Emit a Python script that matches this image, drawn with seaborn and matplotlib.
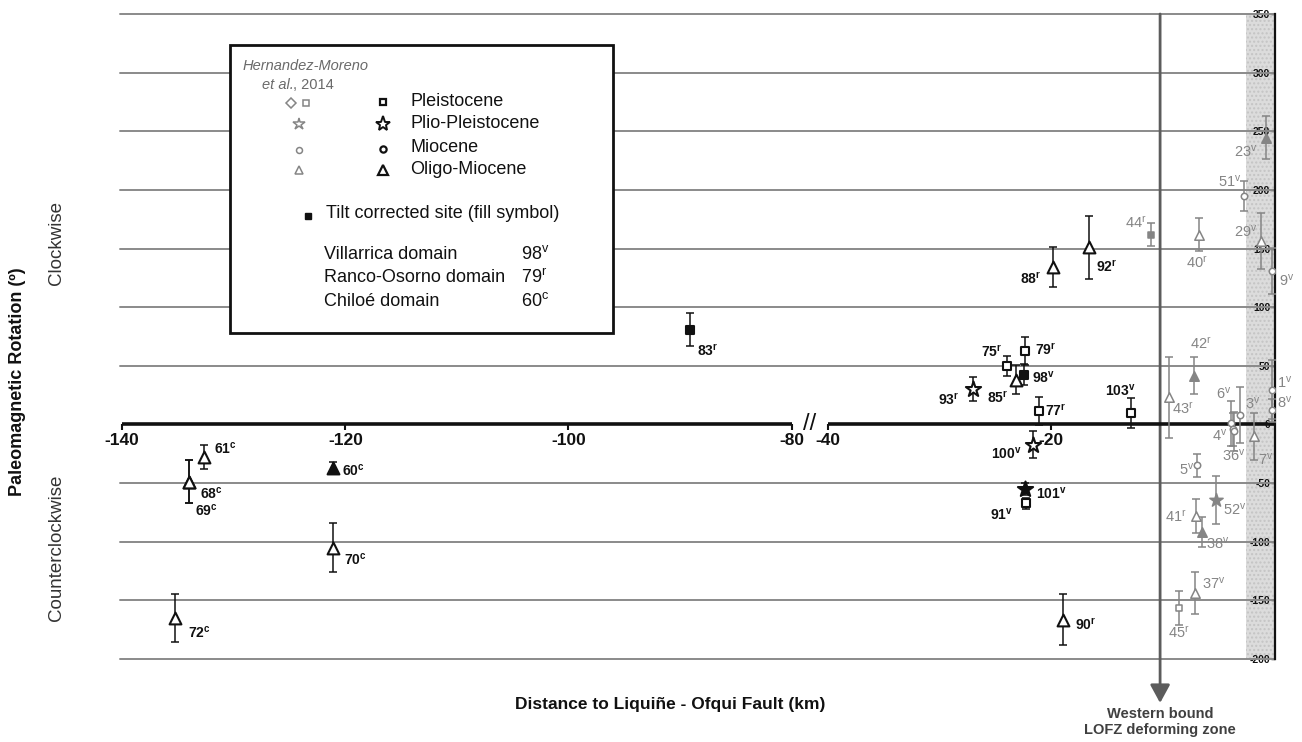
import numpy as np
import pandas as pd
import matplotlib
matplotlib.use("Agg")
import matplotlib.pyplot as plt
from matplotlib.patches import Rectangle
import seaborn as sns

# ---------------- data ----------------
site_id = [61, 68, 69, 60, 70, 72, 83, 88, 92, 79, 75, 98, 85, 93, 77, 103, 100, 101, 91, 90,
           23, 51, 44, 40, 29, 9, 42, 43, 1, 8, 6, 3, 4, 36, 7, 5, 52, 41, 38, 37, 45]
site_domain = ["c", "c", "c", "c", "c", "c", "r", "r", "r", "r", "r", "v", "r", "r", "r", "v", "v", "v", "v", "r",
               "v", "v", "r", "r", "v", "v", "r", "r", "v", "v", "v", "v", "v", "v", "v", "v", "v", "r", "v", "v", "r"]
dist_km = [-132.7, -134.0, -134.0, -121.1, -121.1, -135.3, -89.1, -19.8, -16.6, -22.3,
           -23.9, -22.4, -23.1, -27.0, -21.05, -12.8, -21.6, -22.3, -22.2, -18.9,
           -0.7, -2.65, -11.0, -6.7, -1.15, -0.2, -7.2, -9.4, -0.2, -0.2,
           -3.8, -3.0, -3.65, -3.6, -1.8, -6.9, -5.2, -7.0, -6.4, -7.1, -8.5]
rotation = [-27.8, -49.0, -49.0, -36.8, -105.0, -165.0, 80.7, 134.1, 151.1, 62.8,
            49.8, 42.4, 38.2, 30.3, 11.6, 9.6, -17.3, -55.2, -67.3, -166.4,
            244.5, 194.7, 161.9, 161.9, 156.2, 130.7, 41.6, 23.2, 29.7, 11.9,
            1.0, 8.2, -4.0, -6.0, -10.2, -34.8, -64.5, -78.1, -91.4, -143.7, -156.8]
alpha95 = [10.6, 18.4, 18.4, 5, 20.6, 20.7, 14, 17, 27, 12,
           8.5, 9, 12.3, 10, 12, 12.6, 11.6, 5, 5, 22,
           18.5, 12.7, 10, 14, 24, 19.5, 16, 34.7, 25, 10,
           19, 23.6, 14, 17, 19.8, 10, 20.8, 14.4, 12.7, 17.7, 14.4]
OM, M, PP, P = "Oligo-Miocene", "Miocene", "Plio-Pleistocene", "Pleistocene"
age_group = [OM, OM, OM, OM, OM, OM, P, OM, OM, P, P, P, OM, PP, P, P, PP, PP, P, OM,
             OM, M, P, OM, OM, M, OM, OM, M, M, M, M, M, M, OM, M, PP, OM, OM, OM, P]
source = ["This study"] * 20 + ["Hernandez-Moreno et al., 2014"] * 21
tilt_corrected = [False, False, False, True, False, False, True, False, False, False,
                  False, True, False, False, False, False, False, True, False, False,
                  True, False, True, False, False, False, True, False, False, False,
                  False, False, False, False, False, False, True, False, True, False, False]

x_ticks = [-140, -120, -100, -80, -40, -20]
y_ticks = [-200, -150, -100, -50, 0, 50, 100, 150, 200, 250, 300, 350]

# label placement (pixel offsets from marker, down positive) -- styling only
label_offsets = [(10, -8, "left"), (11, 12, "left"), (6, 29, "left"), (9, 3, "left"),
                 (11, 12, "left"), (13, 15, "left"), (7, 21, "left"), (-12, 12, "right"),
                 (7, 20, "left"), (10, -1, "left"), (-5, -14, "right"), (8, 3, "left"),
                 (-8, 18, "right"), (-13, 11, "right"), (6, 0, "left"), (-11, -23, "center"),
                 (-11, 9, "right"), (11, 4, "left"), (-13, 11, "right"), (12, 5, "left"),
                 (-9, 14, "right"), (-3, -15, "right"), (-4, -12, "right"), (-2, 28, "center"),
                 (-4, -10, "right"), (7, 9, "left"), (7, -32, "center"), (3, 12, "left"),
                 (5, -7, "left"), (5, -8, "left"), (-8, -30, "center"), (5, -11, "left"),
                 (-6, 6, "right"), (0, 24, "center"), (4, 23, "left"), (-3, 4, "right"),
                 (7, 10, "left"), (-9, 1, "right"), (4, 12, "left"), (7, -9, "left"),
                 (0, 25, "center")]

df = pd.DataFrame({"site": site_id, "domain": site_domain, "dist": dist_km,
                   "rot": rotation, "err": alpha95, "age": age_group,
                   "source": source, "filled": tilt_corrected})

# ---------------- style ----------------
sns.set_theme(style="white")
plt.rcParams["font.family"] = ["Liberation Sans", "DejaVu Sans"]
plt.rcParams["mathtext.fontset"] = "custom"
plt.rcParams["mathtext.rm"] = "Liberation Sans"
plt.rcParams["mathtext.bf"] = "Liberation Sans:bold"
plt.rcParams["mathtext.it"] = "Liberation Sans:italic"

W, H = 1302, 742
fig = plt.figure(figsize=(W / 100, H / 100), dpi=100)
ax = fig.add_axes([120 / W, 1 - 659 / H, 1155 / W, 645 / H])

GAP = 3.23


def fwd(x):
    x = np.asarray(x, dtype=float)
    return np.where(x <= -80, x, np.where(x >= -40, x - 40 + GAP, -80 + (x + 80) * GAP / 40))


def inv(t):
    t = np.asarray(t, dtype=float)
    return np.where(t <= -80, t, np.where(t >= -80 + GAP, t + 40 - GAP, -80 + (t + 80) * 40 / GAP))


ax.set_xscale("function", functions=(fwd, inv))

BLACK = "#111111"
GRAY = "#858585"
markers = {P: "s", PP: "*", M: "o", OM: "^"}
size_black = {P: 5.4, PP: 11.5, M: 5, OM: 8.5}
size_gray = {P: 4.5, PP: 10, M: 4.6, OM: 6.8}

# gridlines
for v in y_ticks:
    if v != 0:
        ax.axhline(v, color="#8a8a8a", lw=1.4, zorder=1, clip_on=False)

# grey stippled band at right
ax.axvspan(-2.5, 0.1, facecolor="#dcdcdc", edgecolor="#c4c4c4", hatch="....", lw=0, zorder=0.5)

# error bars and markers
for (src, age, filled), g in df.groupby(["source", "age", "filled"]):
    black = src == "This study"
    col = BLACK if black else GRAY
    ax.errorbar(g["dist"], g["rot"], yerr=g["err"], fmt="none", ecolor=col,
                elinewidth=1.1, capsize=3.2, capthick=1.1, zorder=3)
    ms = (size_black if black else size_gray)[age]
    sns.scatterplot(data=g, x="dist", y="rot", ax=ax, marker=markers[age], s=ms ** 2,
                    facecolor=(col if filled else "white"), edgecolor=col,
                    linewidth=(1.5 if black else 1.1), legend=False, zorder=4)

# site labels
for (i, row), (dx, dy, ha) in zip(df.iterrows(), label_offsets):
    black = row["source"] == "This study"
    if black:
        txt = rf"$\mathbf{{{row['site']}}}^{{\mathbf{{{row['domain']}}}}}$"
    else:
        txt = rf"$\mathrm{{{row['site']}}}^{{\mathrm{{{row['domain']}}}}}$"
    ax.annotate(txt, xy=(row["dist"], row["rot"]), xytext=(dx * 0.72, -dy * 0.72),
                textcoords="offset points", ha=ha, va="center",
                fontsize=10 if black else 10.5, color=BLACK if black else GRAY,
                zorder=5, annotation_clip=False)

# broken x axis at zero
ax.plot([-140, -80], [0, 0], color=BLACK, lw=2.6, zorder=2.5, solid_capstyle="butt")
ax.plot([-40, 0.1], [0, 0], color=BLACK, lw=2.6, zorder=2.5, solid_capstyle="butt")
ax.text(-60, 0, "//", ha="center", va="center", fontsize=17, color=BLACK, zorder=6)

for s in ["left", "top"]:
    ax.spines[s].set_visible(False)
ax.spines["bottom"].set_position(("data", 0))
ax.spines["bottom"].set_visible(False)
ax.spines["right"].set_color(BLACK)
ax.spines["right"].set_linewidth(1.6)

ax.set_xticks(x_ticks, labels=[str(v) for v in x_ticks])
ax.tick_params(axis="x", direction="out", length=4, width=1.5, color=BLACK,
               labelsize=12.5, pad=2, bottom=True)
for lbl in ax.get_xticklabels():
    lbl.set_fontweight("bold")
    lbl.set_color(BLACK)

ax.set_yticks(y_ticks, labels=[str(v) for v in y_ticks])
ax.yaxis.tick_right()
ax.tick_params(axis="y", direction="in", length=3, width=1, color=BLACK,
               labelsize=7.5, pad=-3.5, right=True, left=False)
for lbl in ax.get_yticklabels():
    lbl.set_ha("right")
    lbl.set_fontweight("bold")
    lbl.set_color(BLACK)

ax.set_xlabel("")
ax.set_ylabel("")
ax.set_xlim(-140.2, 0.1)
ax.set_ylim(-200, 350)

# western bound of LOFZ deforming zone
ax.annotate("", xy=(-10.2, -237.5), xytext=(-10.2, 350),
            arrowprops=dict(arrowstyle="-|>,head_length=0.55,head_width=0.3", color="#5c5c5c",
                            lw=2, shrinkA=0, shrinkB=0, mutation_scale=20),
            annotation_clip=False, zorder=2)
ax.text(-10.2, -253.7, "Western bound\nLOFZ deforming zone", ha="center", va="center",
        fontsize=10.5, fontweight="bold", color="#404040", linespacing=1.2, clip_on=False)


def fp(px, py):
    return (px / W, 1 - py / H)


# axis titles
fig.text(*fp(670, 705), "Distance to Liquiñe - Ofqui Fault (km)", ha="center", va="center",
         fontsize=12.5, fontweight="bold", color=BLACK)
fig.text(*fp(18, 382), "Paleomagnetic Rotation (º)", ha="center", va="center",
         rotation=90, fontsize=13, fontweight="bold", color=BLACK)
fig.text(*fp(57, 243), "Clockwise", ha="center", va="center", rotation=90,
         fontsize=13.5, color="#333333")
fig.text(*fp(57, 548), "Counterclockwise", ha="center", va="center", rotation=90,
         fontsize=13.5, color="#333333")

# ---------------- legend box ----------------
x0, y0 = fp(230, 333)
x1, y1 = fp(613, 45)
ax.add_patch(Rectangle((x0, y0), x1 - x0, y1 - y0, transform=fig.transFigure,
                       facecolor="white", edgecolor=BLACK, lw=2, zorder=7, clip_on=False))


def lg_mark(px, py, marker, ms, fc, ec, lw):
    ax.plot(*[[c] for c in fp(px, py)], transform=fig.transFigure, marker=marker, ms=ms,
            mfc=fc, mec=ec, mew=lw, ls="none", zorder=8, clip_on=False)


def lg_text(px, py, s, **kw):
    kw.setdefault("fontsize", 13)
    kw.setdefault("color", BLACK)
    ax.text(*fp(px, py), s, transform=fig.transFigure, ha="left", va="center", zorder=8, **kw)


lg_text(243, 66, "Hernandez-Moreno", fontsize=10.5, color="#6a6a6a", style="italic")
lg_text(262, 85, "et al.", fontsize=10.5, color="#6a6a6a", style="italic")
lg_text(293, 85, ", 2014", fontsize=10.5, color="#6a6a6a")
lg_mark(291, 103, "D", 5.5, "white", GRAY, 1.1)
lg_mark(306, 103, "s", 4.5, "white", GRAY, 1.1)
lg_mark(299, 124, "*", 9, "white", GRAY, 1.1)
lg_mark(299, 150, "o", 4.3, "white", GRAY, 1.1)
lg_mark(299, 170, "^", 5.5, "white", GRAY, 1.1)
lg_mark(383, 102, "s", 5, "white", BLACK, 1.6)
lg_mark(383, 124, "*", 11, "white", BLACK, 1.4)
lg_mark(383, 149, "o", 4.5, "white", BLACK, 1.6)
lg_mark(383, 170, "^", 7, "white", BLACK, 1.6)
lg_text(410, 102, "Pleistocene")
lg_text(410, 124, "Plio-Pleistocene")
lg_text(410, 148, "Miocene")
lg_text(410, 169, "Oligo-Miocene")
lg_mark(308, 216, "s", 5, BLACK, BLACK, 1)
lg_text(326, 213, "Tilt corrected site (fill symbol)")
lg_text(324, 254, "Villarrica domain")
lg_text(324, 278, "Ranco-Osorno domain")
lg_text(324, 301, "Chiloé domain")
lg_text(521, 254, r"$\mathrm{98}^{\mathrm{v}}$")
lg_text(521, 278, r"$\mathrm{79}^{\mathrm{r}}$")
lg_text(521, 301, r"$\mathrm{60}^{\mathrm{c}}$")

fig.savefig("out.png", dpi=100)
